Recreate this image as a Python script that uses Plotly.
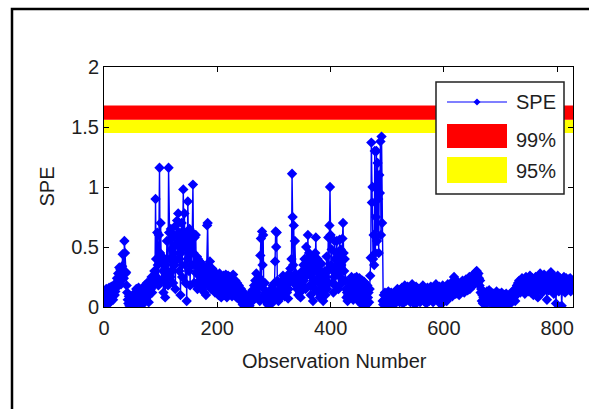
import plotly.graph_objects as go

# ---------------- data ----------------
spe_values = [
    0.12, 0.05, 0.09, 0.15, 0.02, 0.10, 0.13, 0.07, 0.16, 0.11,
    0.04, 0.14, 0.17, 0.09, 0.12, 0.06, 0.15, 0.18, 0.10, 0.13,
    0.20, 0.16, 0.24, 0.18, 0.28, 0.22, 0.33, 0.26, 0.31, 0.19,
    0.25, 0.34, 0.44, 0.30, 0.24, 0.55, 0.45, 0.28, 0.29, 0.18,
    0.12, 0.06, 0.03, 0.09, 0.01, 0.05, 0.08, 0.02, 0.07, 0.04,
    0.10, 0.03, 0.06, 0.01, 0.08, 0.12, 0.15, 0.09, 0.05, 0.11,
    0.16, 0.13, 0.07, 0.03, 0.10, 0.14, 0.08, 0.02, 0.06, 0.12,
    0.15, 0.18, 0.11, 0.07, 0.13, 0.20, 0.16, 0.09, 0.04, 0.14,
    0.19, 0.22, 0.15, 0.25, 0.12, 0.20, 0.24, 0.18, 0.30, 0.22,
    0.90, 0.40, 0.25, 0.62, 0.35, 0.18, 0.60, 1.16, 0.45, 0.70,
    0.38, 0.22, 0.42, 0.30, 0.12, 0.40, 0.25, 0.08, 0.35, 0.20,
    0.55, 0.30, 0.18, 1.16, 0.62, 0.40, 0.25, 0.65, 0.48, 0.30,
    0.58, 0.20, 0.45, 0.60, 0.35, 0.15, 0.68, 0.52, 0.72, 0.40,
    0.78, 0.55, 0.30, 0.62, 0.10, 0.45, 0.70, 0.25, 0.55, 0.98,
    0.50, 0.78, 0.35, 0.20, 0.62, 0.05, 0.40, 0.88, 0.55, 0.30,
    0.65, 0.18, 0.48, 0.60, 0.35, 0.62, 1.02, 0.45, 0.20, 0.58,
    0.35, 0.60, 0.28, 0.42, 0.15, 0.40, 0.30, 0.22, 0.38, 0.18,
    0.32, 0.25, 0.15, 0.28, 0.35, 0.20, 0.12, 0.30, 0.22, 0.10,
    0.26, 0.68, 0.70, 0.35, 0.18, 0.30, 0.38, 0.22, 0.15, 0.28,
    0.32, 0.25, 0.18, 0.30, 0.22, 0.12, 0.27, 0.20, 0.15, 0.25,
    0.18, 0.10, 0.22, 0.28, 0.14, 0.20, 0.08, 0.25, 0.17, 0.12,
    0.26, 0.19, 0.10, 0.23, 0.27, 0.15, 0.08, 0.20, 0.26, 0.13,
    0.18, 0.25, 0.11, 0.21, 0.16, 0.09, 0.24, 0.27, 0.14, 0.19,
    0.12, 0.22, 0.17, 0.08, 0.20, 0.15, 0.11, 0.18, 0.06, 0.13,
    0.09, 0.15, 0.05, 0.10, 0.02, 0.07, 0.12, 0.03, 0.08, 0.01,
    0.04, 0.00, 0.06, 0.02, 0.09, 0.05, 0.01, 0.07, 0.11, 0.04,
    0.08, 0.14, 0.06, 0.12, 0.18, 0.10, 0.22, 0.15, 0.28, 0.12,
    0.20, 0.08, 0.25, 0.18, 0.05, 0.43, 0.57, 0.22, 0.63, 0.35,
    0.60, 0.15, 0.10, 0.20, 0.06, 0.12, 0.04, 0.09, 0.02, 0.07,
    0.10, 0.05, 0.13, 0.08, 0.15, 0.03, 0.11, 0.18, 0.07, 0.14,
    0.20, 0.38, 0.63, 0.50, 0.62, 0.22, 0.12, 0.05, 0.10, 0.15,
    0.08, 0.13, 0.18, 0.10, 0.22, 0.26, 0.14, 0.20, 0.09, 0.16,
    0.24, 0.18, 0.12, 0.20, 0.07, 0.15, 0.28, 0.22, 0.32, 0.25,
    0.40, 1.11, 0.75, 0.35, 0.68, 0.20, 0.55, 0.28, 0.18, 0.26,
    0.15, 0.22, 0.10, 0.18, 0.26, 0.12, 0.08, 0.20, 0.14, 0.30,
    0.18, 0.35, 0.22, 0.40, 0.25, 0.15, 0.50, 0.30, 0.38, 0.60,
    0.28, 0.45, 0.18, 0.35, 0.10, 0.42, 0.25, 0.32, 0.05, 0.20,
    0.38, 0.15, 0.45, 0.58, 0.30, 0.22, 0.40, 0.12, 0.35, 0.25,
    0.08, 0.30, 0.18, 0.36, 0.12, 0.28, 0.05, 0.22, 0.15, 0.30,
    0.10, 0.25, 0.42, 0.15, 0.30, 0.58, 0.20, 0.68, 1.00, 0.60,
    0.35, 0.48, 0.20, 0.30, 0.12, 0.25, 0.55, 0.40, 0.18, 0.45,
    0.55, 0.30, 0.42, 0.15, 0.38, 0.56, 0.25, 0.48, 0.35, 0.20,
    0.57, 0.70, 0.45, 0.30, 0.40, 0.22, 0.15, 0.08, 0.12, 0.05,
    0.10, 0.15, 0.08, 0.20, 0.12, 0.18, 0.25, 0.10, 0.22, 0.06,
    0.15, 0.24, 0.18, 0.09, 0.20, 0.25, 0.12, 0.22, 0.05, 0.18,
    0.24, 0.10, 0.20, 0.15, 0.02, 0.22, 0.18, 0.08, 0.21, 0.12,
    0.05, 0.15, 0.10, 0.02, 0.18, 0.08, 0.12, 0.04, 0.15, 0.26,
    0.41, 1.37, 0.87, 1.00, 0.40, 0.60, 0.35, 1.30, 0.45, 0.75,
    1.30, 0.55, 1.20, 0.90, 0.45, 1.10, 0.95, 1.38, 0.60, 1.42,
    0.70, 0.05, 0.02, 0.10, 0.06, 0.12, 0.03, 0.08, 0.11, 0.04,
    0.09, 0.13, 0.06, 0.02, 0.10, 0.07, 0.12, 0.05, 0.09, 0.01,
    0.06, 0.11, 0.08, 0.03, 0.13, 0.09, 0.05, 0.15, 0.10, 0.07,
    0.12, 0.04, 0.14, 0.09, 0.06, 0.16, 0.11, 0.03, 0.13, 0.08,
    0.18, 0.10, 0.05, 0.14, 0.09, 0.17, 0.12, 0.06, 0.15, 0.10,
    0.04, 0.13, 0.08, 0.19, 0.11, 0.06, 0.14, 0.09, 0.02, 0.12,
    0.17, 0.10, 0.05, 0.13, 0.08, 0.15, 0.11, 0.04, 0.09, 0.14,
    0.07, 0.12, 0.18, 0.10, 0.05, 0.15, 0.09, 0.13, 0.03, 0.11,
    0.16, 0.08, 0.12, 0.05, 0.14, 0.10, 0.17, 0.07, 0.13, 0.09,
    0.04, 0.11, 0.15, 0.08, 0.13, 0.19, 0.10, 0.06, 0.14, 0.09,
    0.12, 0.17, 0.07, 0.11, 0.02, 0.09, 0.14, 0.18, 0.10, 0.06,
    0.13, 0.08, 0.16, 0.11, 0.05, 0.14, 0.19, 0.12, 0.08, 0.15,
    0.10, 0.17, 0.13, 0.20, 0.09, 0.15, 0.22, 0.25, 0.14, 0.18,
    0.11, 0.19, 0.15, 0.21, 0.13, 0.17, 0.10, 0.19, 0.16, 0.20,
    0.14, 0.18, 0.22, 0.15, 0.19, 0.12, 0.21, 0.17, 0.23, 0.16,
    0.20, 0.14, 0.22, 0.18, 0.25, 0.15, 0.21, 0.24, 0.19, 0.26,
    0.22, 0.18, 0.27, 0.21, 0.25, 0.29, 0.23, 0.30, 0.26, 0.20,
    0.28, 0.24, 0.18, 0.22, 0.12, 0.15, 0.05, 0.10, 0.03, 0.08,
    0.12, 0.06, 0.10, 0.02, 0.09, 0.13, 0.05, 0.11, 0.07, 0.14,
    0.04, 0.10, 0.08, 0.12, 0.03, 0.09, 0.06, 0.11, 0.02, 0.08,
    0.10, 0.05, 0.13, 0.07, 0.01, 0.09, 0.04, 0.11, 0.06, 0.03,
    0.08, 0.12, 0.05, 0.02, 0.09, 0.06, 0.10, 0.03, 0.07, 0.11,
    0.04, 0.08, 0.02, 0.06, 0.10, 0.05, 0.09, 0.03, 0.07, 0.12,
    0.06, 0.10, 0.14, 0.08, 0.12, 0.05, 0.15, 0.10, 0.18, 0.13,
    0.20, 0.15, 0.22, 0.18, 0.12, 0.21, 0.16, 0.24, 0.19, 0.14,
    0.22, 0.17, 0.11, 0.20, 0.25, 0.15, 0.19, 0.23, 0.13, 0.18,
    0.21, 0.26, 0.16, 0.12, 0.20, 0.24, 0.18, 0.10, 0.22, 0.15,
    0.19, 0.25, 0.14, 0.21, 0.17, 0.08, 0.20, 0.23, 0.16, 0.28,
    0.22, 0.18, 0.25, 0.12, 0.20, 0.16, 0.27, 0.21, 0.15, 0.24,
    0.18, 0.06, 0.22, 0.26, 0.14, 0.20, 0.17, 0.24, 0.29, 0.19,
    0.15, 0.23, 0.18, 0.11, 0.25, 0.20, 0.16, 0.03, 0.22, 0.17,
    0.26, 0.19, 0.13, 0.21, 0.24, 0.15, 0.20, 0.01, 0.18, 0.23,
    0.16, 0.25, 0.20, 0.12, 0.19, 0.24, 0.14, 0.21, 0.17, 0.23,
    0.15, 0.20, 0.24, 0.13, 0.19, 0.22, 0.16, 0.18,
]
observations = list(range(1, len(spe_values) + 1))

limit_95 = [1.45, 1.56]   # yellow band (lower, upper)
limit_99 = [1.56, 1.68]   # red band (lower, upper)

x_range = [0, 828]
y_range = [0, 2]
x_ticks = [0, 200, 400, 600, 800]
y_ticks = [0, 0.5, 1, 1.5, 2]

legend_labels = ["SPE", "99%", "95%"]

FONT = "Liberation Sans, Arial, sans-serif"
FS = 20
TXT = "#1e1e1e"
BLUE = "#0000ff"

fig = go.Figure()

# bands (drawn through the axes)
for lim, col in [(limit_95, "#ffff00"), (limit_99, "#ff0000")]:
    fig.add_trace(go.Scatter(
        x=[x_range[0], x_range[1], x_range[1], x_range[0], x_range[0]],
        y=[lim[0], lim[0], lim[1], lim[1], lim[0]],
        fill="toself", fillcolor=col, mode="lines",
        line=dict(width=0, color=col), showlegend=False, hoverinfo="skip"))

fig.add_trace(go.Scatter(
    x=observations, y=spe_values, mode="lines+markers",
    line=dict(color=BLUE, width=1.4),
    marker=dict(symbol="diamond", size=8, color=BLUE, line=dict(width=0)),
    showlegend=False, cliponaxis=True))

# plot area in pixels: x 104..573, y 67..307
W, H = 589, 409
L, R, T, B = 104, 16, 67, 102
pw, ph = W - L - R, H - T - B

def px(x):
    return (x - L) / pw

def py(y):
    return (H - B - y) / ph

shapes = []
# outer frame (only top/left visible)
shapes.append(dict(type="rect", xref="paper", yref="paper",
                   x0=px(12), x1=px(620), y0=py(440), y1=py(9),
                   line=dict(color="black", width=2.5), fillcolor="rgba(0,0,0,0)", layer="above"))
# legend box
shapes.append(dict(type="rect", xref="paper", yref="paper",
                   x0=px(436), x1=px(564), y0=py(194), y1=py(82),
                   line=dict(color="#222", width=1.5), fillcolor="white", layer="above"))
# SPE legend line
shapes.append(dict(type="line", xref="paper", yref="paper",
                   x0=px(447), x1=px(507), y0=py(102), y1=py(102),
                   line=dict(color=BLUE, width=1.2), layer="above"))
cx, cy, d = 477, 102, 3.5
shapes.append(dict(type="path", xref="paper", yref="paper",
                   path=f"M {px(cx-d)} {py(cy)} L {px(cx)} {py(cy-d)} L {px(cx+d)} {py(cy)} L {px(cx)} {py(cy+d)} Z",
                   fillcolor=BLUE, line=dict(color=BLUE, width=0), layer="above"))
shapes.append(dict(type="rect", xref="paper", yref="paper",
                   x0=px(447), x1=px(507), y0=py(148), y1=py(124),
                   fillcolor="#ff0000", line=dict(width=0), layer="above"))
shapes.append(dict(type="rect", xref="paper", yref="paper",
                   x0=px(447), x1=px(507), y0=py(183), y1=py(157),
                   fillcolor="#ffff00", line=dict(width=0), layer="above"))

annotations = []
for lab, yc in zip(legend_labels, [102, 140, 171]):
    annotations.append(dict(text=lab, xref="paper", yref="paper", x=px(514), y=py(yc),
                            xanchor="left", yanchor="middle", showarrow=False,
                            font=dict(family=FONT, size=FS, color=TXT)))
annotations.append(dict(text="Observation Number", xref="paper", yref="paper",
                        x=px(334), y=py(361), xanchor="center", yanchor="middle",
                        showarrow=False, font=dict(family=FONT, size=FS, color=TXT)))
annotations.append(dict(text="SPE", xref="paper", yref="paper",
                        x=px(46.5), y=py(187), xanchor="center", yanchor="middle",
                        textangle=-90, showarrow=False, font=dict(family=FONT, size=FS, color=TXT)))

fig.update_layout(
    width=W, height=H,
    margin=dict(l=L, r=R, t=T, b=B, pad=0),
    paper_bgcolor="white", plot_bgcolor="white",
    font=dict(family=FONT, size=FS, color=TXT),
    shapes=shapes, annotations=annotations,
    showlegend=False,
)
fig.update_xaxes(range=x_range, tickvals=x_ticks, ticks="inside", ticklen=5,
                 tickcolor="black", showline=True, linecolor="black", linewidth=1,
                 mirror="ticks", showgrid=False, zeroline=False, ticklabelstandoff=3,
                 tickfont=dict(family=FONT, size=FS, color=TXT))
fig.update_yaxes(range=y_range, tickvals=y_ticks, ticks="inside", ticklen=5,
                 tickcolor="black", showline=True, linecolor="black", linewidth=1,
                 mirror="ticks", showgrid=False, zeroline=False,
                 tickfont=dict(family=FONT, size=FS, color=TXT))

fig.write_html("out.html")
